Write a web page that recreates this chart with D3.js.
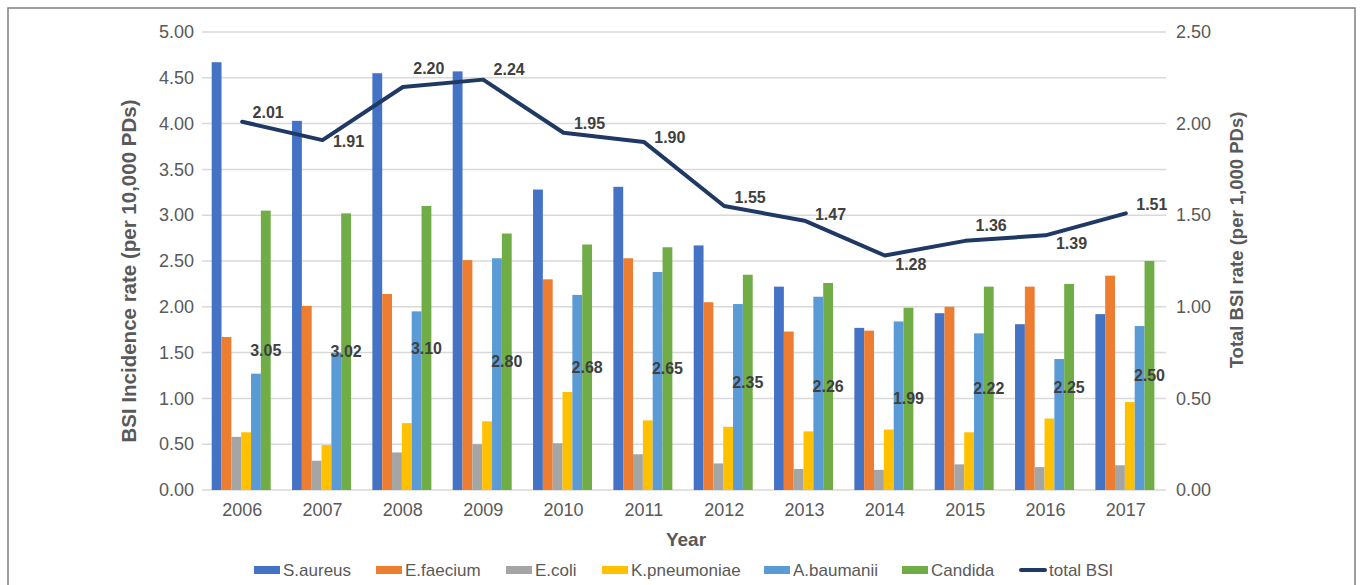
<!DOCTYPE html>
<html>
<head>
<meta charset="utf-8">
<script src="https://cdn.jsdelivr.net/npm/d3@7"></script>
<style>
  html, body { margin: 0; padding: 0; background: #fff; }
  svg { display: block; font-family: "Liberation Sans", Arial, sans-serif; }
</style>
</head>
<body>
<div id="chart"></div>
<script>
const years = ['2006', '2007', '2008', '2009', '2010', '2011', '2012', '2013', '2014', '2015', '2016', '2017'];
const seriesNames = ['S.aureus', 'E.faecium', 'E.coli', 'K.pneumoniae', 'A.baumanii', 'Candida'];

const sAureus     = [4.67, 4.03, 4.55, 4.57, 3.28, 3.31, 2.67, 2.22, 1.77, 1.93, 1.81, 1.92];
const eFaecium    = [1.67, 2.01, 2.14, 2.51, 2.30, 2.53, 2.05, 1.73, 1.74, 2.00, 2.22, 2.34];
const eColi       = [0.58, 0.32, 0.41, 0.50, 0.51, 0.39, 0.29, 0.23, 0.22, 0.28, 0.25, 0.27];
const kPneumoniae = [0.63, 0.49, 0.73, 0.75, 1.07, 0.76, 0.69, 0.64, 0.66, 0.63, 0.78, 0.96];
const aBaumanii   = [1.27, 1.50, 1.95, 2.53, 2.13, 2.38, 2.03, 2.11, 1.84, 1.71, 1.43, 1.79];
const candida     = [3.05, 3.02, 3.10, 2.80, 2.68, 2.65, 2.35, 2.26, 1.99, 2.22, 2.25, 2.50];
const totalBSI    = [2.01, 1.91, 2.20, 2.24, 1.95, 1.90, 1.55, 1.47, 1.28, 1.36, 1.39, 1.51];

const leftTicks  = [0, 0.5, 1, 1.5, 2, 2.5, 3, 3.5, 4, 4.5, 5];
const rightTicks = [0, 0.5, 1, 1.5, 2, 2.5];

const seriesValues = [sAureus, eFaecium, eColi, kPneumoniae, aBaumanii, candida];
const colors = ['#4472C4', '#ED7D31', '#A5A5A5', '#FFC000', '#5B9BD5', '#70AD47'];
const lineColor = '#1F3864';
// vertical nudge of each total BSI label (Excel placed them by hand)
const lineLabelDy = [-9, 1, -19, -10, -9, -5, -9, -6, 9, -15, 8, -9];

const width = 1360, height = 585;
const plotLeft = 202, plotRight = 1166, plotTop = 32, plotBottom = 490;

const svg = d3.select('#chart').append('svg')
    .attr('width', width)
    .attr('height', height);

// outer frame
svg.append('rect')
    .attr('x', 8).attr('y', 8)
    .attr('width', 1347).attr('height', 600)
    .attr('fill', 'none')
    .attr('stroke', '#7f7f7f')
    .attr('stroke-width', 1.5);

const x = d3.scaleBand().domain(years).range([plotLeft, plotRight]);
const xs = d3.scaleBand().domain(seriesNames).range([9.7, 68.7]);
const yL = d3.scaleLinear().domain([0, 5]).range([plotBottom, plotTop]);
const yR = d3.scaleLinear().domain([0, 2.5]).range([plotBottom, plotTop]);

// gridlines
svg.append('g')
    .selectAll('line')
    .data(leftTicks)
    .enter()
    .append('line')
    .attr('x1', plotLeft).attr('x2', plotRight)
    .attr('y1', d => yL(d)).attr('y2', d => yL(d))
    .attr('stroke', '#d9d9d9')
    .attr('stroke-width', 1.5);

// left axis
const axL = svg.append('g')
    .attr('transform', `translate(${plotLeft - 8},0)`)
    .call(d3.axisLeft(yL).tickValues(leftTicks).tickFormat(d3.format('.2f')).tickSize(0).tickPadding(0));
axL.select('.domain').remove();
axL.selectAll('text').style('font-size', '18px').attr('fill', '#595959');

// right axis
const axR = svg.append('g')
    .attr('transform', `translate(${plotRight + 10},0)`)
    .call(d3.axisRight(yR).tickValues(rightTicks).tickFormat(d3.format('.2f')).tickSize(0).tickPadding(0));
axR.select('.domain').remove();
axR.selectAll('text').style('font-size', '18px').attr('fill', '#595959');

// bottom axis
const axB = svg.append('g')
    .attr('transform', `translate(0,${plotBottom + 13})`)
    .call(d3.axisBottom(x).tickSize(0).tickPadding(0));
axB.select('.domain').remove();
axB.selectAll('text').style('font-size', '18px').attr('fill', '#595959').attr('dy', '0.71em');

// bars
seriesNames.forEach((name, si) => {
    svg.append('g')
        .selectAll('rect')
        .data(seriesValues[si])
        .enter()
        .append('rect')
        .attr('x', (_, i) => x(years[i]) + xs(name))
        .attr('y', d => yL(d))
        .attr('width', xs.bandwidth())
        .attr('height', d => plotBottom - yL(d))
        .attr('fill', colors[si]);
});

// candida labels, centred inside the bar
svg.append('g')
    .selectAll('text')
    .data(candida)
    .enter()
    .append('text')
    .attr('x', (_, i) => x(years[i]) + xs('Candida') + xs.bandwidth() / 2)
    .attr('y', d => (yL(d) + plotBottom) / 2)
    .attr('dy', '0.35em')
    .attr('text-anchor', 'middle')
    .style('font', 'bold 16px "Liberation Sans", Arial, sans-serif')
    .attr('fill', '#404040')
    .text(d => d.toFixed(2));

// total BSI line
const line = d3.line()
    .x((_, i) => x(years[i]) + x.bandwidth() / 2)
    .y(d => yR(d));

svg.append('path')
    .datum(totalBSI)
    .attr('d', line)
    .attr('fill', 'none')
    .attr('stroke', lineColor)
    .attr('stroke-width', 4)
    .attr('stroke-linejoin', 'round')
    .attr('stroke-linecap', 'round');

svg.append('g')
    .selectAll('text')
    .data(totalBSI)
    .enter()
    .append('text')
    .attr('x', (_, i) => x(years[i]) + x.bandwidth() / 2 + 26)
    .attr('y', (d, i) => yR(d) + lineLabelDy[i])
    .attr('dy', '0.35em')
    .attr('text-anchor', 'middle')
    .style('font', 'bold 16px "Liberation Sans", Arial, sans-serif')
    .attr('fill', '#404040')
    .text(d => d.toFixed(2));

// axis titles
svg.append('text')
    .attr('x', 686)
    .attr('y', 539)
    .attr('dy', '0.35em')
    .attr('text-anchor', 'middle')
    .style('font', 'bold 19px "Liberation Sans", Arial, sans-serif')
    .attr('fill', '#595959')
    .text('Year');

svg.append('text')
    .attr('transform', 'translate(129,271) rotate(-90)')
    .attr('dy', '0.35em')
    .attr('text-anchor', 'middle')
    .style('font', 'bold 20.5px "Liberation Sans", Arial, sans-serif')
    .attr('fill', '#595959')
    .text('BSI Incidence rate (per 10,000 PDs)');

svg.append('text')
    .attr('transform', 'translate(1237,240) rotate(-90)')
    .attr('dy', '0.35em')
    .attr('text-anchor', 'middle')
    .style('font', 'bold 18.5px "Liberation Sans", Arial, sans-serif')
    .attr('fill', '#595959')
    .text('Total BSI rate (per 1,000 PDs)');

// legend
const legendItems = seriesNames.map((n, i) => ({ name: n, color: colors[i], type: 'bar' }))
    .concat([{ name: 'total BSI', color: lineColor, type: 'line' }]);
const legendX = [254, 376, 506, 602, 764, 902, 1020];
const legendY = 570;

const lg = svg.append('g')
    .selectAll('g')
    .data(legendItems)
    .enter()
    .append('g')
    .attr('transform', (_, i) => `translate(${legendX[i]},${legendY})`);

lg.filter(d => d.type === 'bar')
    .append('rect')
    .attr('x', 0).attr('y', -4)
    .attr('width', 26).attr('height', 8)
    .attr('fill', d => d.color);

lg.filter(d => d.type === 'line')
    .append('line')
    .attr('x1', 1).attr('x2', 25)
    .attr('y1', 0).attr('y2', 0)
    .attr('stroke', d => d.color)
    .attr('stroke-width', 4)
    .attr('stroke-linecap', 'round');

lg.append('text')
    .attr('x', 29)
    .attr('dy', '0.35em')
    .style('font-size', '17px')
    .attr('fill', '#595959')
    .text(d => d.name);
</script>
</body>
</html>
